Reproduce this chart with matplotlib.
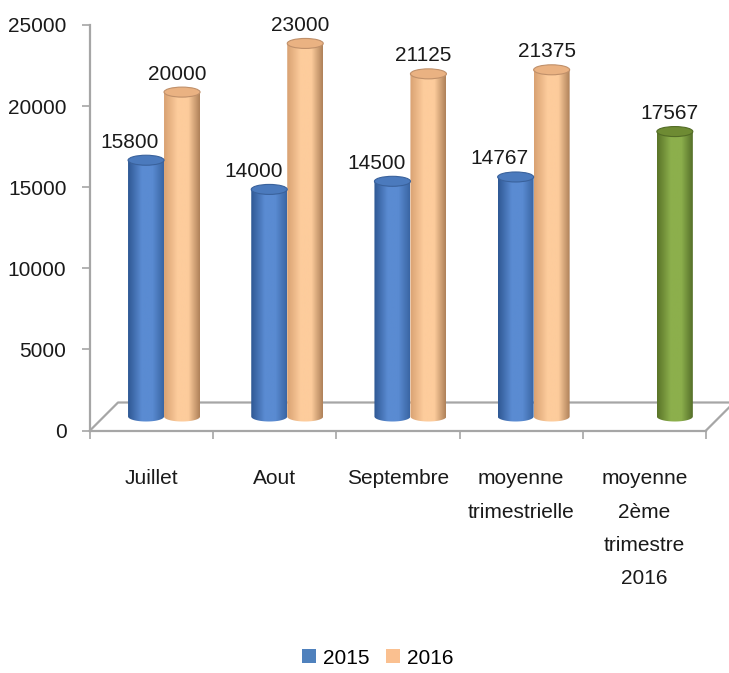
import numpy as np
import matplotlib
matplotlib.use('Agg')
import matplotlib.pyplot as plt
from matplotlib.path import Path
from matplotlib.patches import PathPatch, Ellipse, Patch
from matplotlib.colors import LinearSegmentedColormap

plt.rcParams['font.family'] = ['Liberation Sans', 'DejaVu Sans']

# data
categories = ['Juillet', 'Aout', 'Septembre', 'moyenne\ntrimestrielle',
              'moyenne\n2ème\ntrimestre\n2016']
v2015 = [15800, 14000, 14500, 14767, None]
v2016 = [20000, 23000, 21125, 21375, 17567]
series_names = ['2015', '2016']

# colours: (left edge, highlight, right edge, top face, top edge)
blue = ['#2f5894', '#5a8bd2', '#3a66a4', '#4b7abd', '#3a629c']
orange = ['#d9a273', '#fdcc9c', '#b0825a', '#eab282', '#c0906a']
green = ['#5a7428', '#8caf4c', '#56702a', '#6e8b33', '#536c26']
point_colors_2016 = [orange, orange, orange, orange, green]

FS = 15
W, H = 729, 673
fig = plt.figure(figsize=(W / 100, H / 100), dpi=100)
ax = fig.add_axes([90 / W, (H - 430.5) / H, (706 - 90) / W, (430.5 - 25) / H])
ax.set_xlim(0, 5)
ax.set_ylim(0, 25000)

px_x = 5 / (706 - 90)          # data units per pixel
px_y = 25000 / (430.5 - 25)
depth_x, depth_y = 28 * px_x, 28 * px_y
bar_w = 36 * px_x
ell_h = 10 * px_y
shift = 0.101


def cylinder(xc, value, cols):
    base = depth_y / 2
    top = base + value
    x0, x1 = xc - bar_w / 2, xc + bar_w / 2
    t = np.linspace(0, -np.pi, 40)
    verts = [(x0, top), (x1, top)]
    verts += list(zip(xc + bar_w / 2 * np.cos(t), base + ell_h / 2 * np.sin(t)))
    verts.append((x0, top))
    clip = PathPatch(Path(verts), transform=ax.transData)
    cmap = LinearSegmentedColormap.from_list('c', [(0, cols[0]), (0.38, cols[1]),
                                                   (0.68, cols[1]), (1, cols[2])])
    im = ax.imshow(np.linspace(0, 1, 64)[None, :], cmap=cmap, aspect='auto',
                   extent=[x0, x1, base - ell_h, top], interpolation='bilinear',
                   zorder=3, clip_on=True)
    im.set_clip_path(clip)
    ax.add_patch(Ellipse((xc, top), bar_w, ell_h, facecolor=cols[3],
                         edgecolor=cols[4], lw=0.8, zorder=4, clip_on=False))
    return top


# floor
gray = '#a6a6a6'
ax.plot([0, depth_x, 5 + depth_x], [0, depth_y, depth_y], color=gray, lw=1.6,
        clip_on=False, zorder=1)
ax.plot([5, 5 + depth_x], [0, depth_y], color=gray, lw=1.6, clip_on=False, zorder=1)

for i in range(len(categories)):
    if v2015[i] is not None:
        xc = i + 0.5 + shift - bar_w / 2
        top = cylinder(xc, v2015[i], blue)
        ax.annotate(str(v2015[i]), (xc, top), xytext=(-16, 12.5),
                    textcoords='offset pixels', ha='center', va='baseline',
                    fontsize=FS, color='#1a1a1a', annotation_clip=False)
    xc = i + 0.5 + shift + bar_w / 2
    top = cylinder(xc, v2016[i], point_colors_2016[i])
    ax.annotate(str(v2016[i]), (xc, top), xytext=(-5, 12.5),
                textcoords='offset pixels', ha='center', va='baseline',
                fontsize=FS, color='#1a1a1a', annotation_clip=False)

ax.set_xlim(0, 5)
ax.set_ylim(0, 25000)

for s in ['top', 'right']:
    ax.spines[s].set_visible(False)
for s in ['left', 'bottom']:
    ax.spines[s].set_color(gray)
    ax.spines[s].set_linewidth(1.6)

ax.set_yticks(range(0, 25001, 5000))
ax.tick_params(axis='y', length=6, width=1.2, color=gray, pad=11, labelsize=FS,
               labelcolor='#1a1a1a')
ax.set_xticks(np.arange(5) + 0.5)
ax.set_xticklabels(categories, fontsize=FS, color='#1a1a1a', linespacing=1.95)
ax.tick_params(axis='x', which='major', length=0, pad=28)
ax.set_xticks(np.arange(6), minor=True)
ax.tick_params(axis='x', which='minor', length=6, width=1.2, color=gray)

handles = [Patch(facecolor='#4f81bd'), Patch(facecolor='#fac090')]
fig.legend(handles, series_names, loc='center', bbox_to_anchor=(378 / W, 1 - 658 / H),
           ncol=2, frameon=False, fontsize=FS, handlelength=0.65, handleheight=0.65,
           handletextpad=0.35, columnspacing=0.8)

fig.savefig('out.png', dpi=100, facecolor='white')
